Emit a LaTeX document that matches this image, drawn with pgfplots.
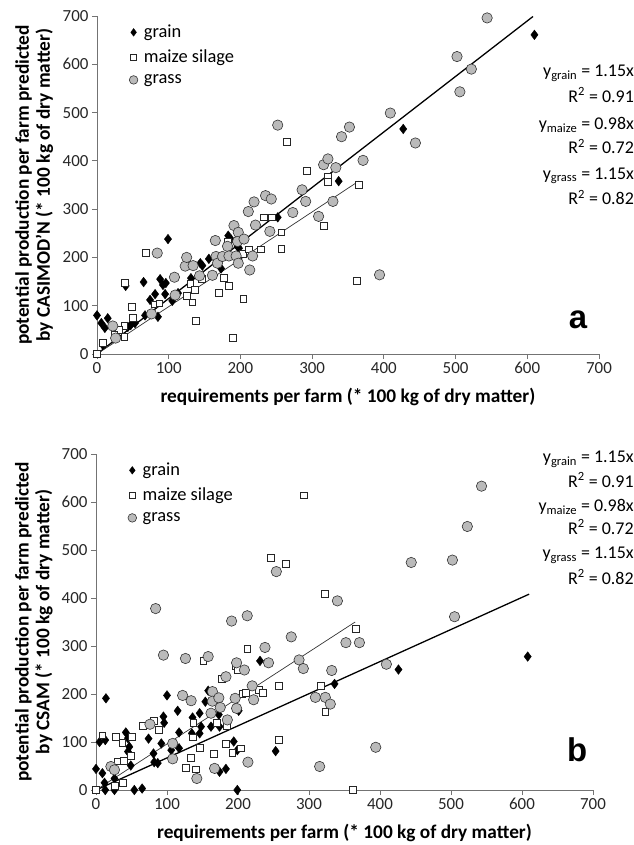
\documentclass[border=0pt]{standalone}
\usepackage{fontspec}
\setmainfont{Carlito}
\newfontfamily\panelfont{Liberation Sans}
\usepackage{pgfplots}
\pgfplotsset{compat=1.18}
\pgfplotsset{
  myax/.style={
    scale only axis,
    xmin=0, xmax=700, ymin=0, ymax=700,
    xtick={0,100,...,700}, ytick={0,100,...,700},
    axis x line*=bottom, axis y line*=left,
    axis line style={draw=black!55, line width=0.9pt},
    tick style={draw=black!55, line width=0.9pt},
    tick align=outside, major tick length=5bp,
    ticklabel style={font=\fontsize{17}{20}\selectfont, text=black!85},
    /pgf/number format/assume math mode=true,
    clip=false,
    label style={font=\bfseries\fontsize{19.4}{21}\selectfont},
    xlabel={requirements per farm (* 100 kg of dry matter)},
    xlabel style={at={(axis description cs:0.5,-0.127)}, anchor=center},
    ylabel style={at={(axis description cs:-0.125,0.5)}, anchor=center, align=center},
    legend style={at={(axis description cs:0.058,0.985)}, anchor=north west, draw=none, fill=none,
      font=\fontsize{18.5}{21}\selectfont, row sep=6.5bp},
    legend cell align=left,
  },
  grain/.style={only marks, mark=diamond*, mark size=4.8bp, draw=black, fill=black,
     legend image post style={mark size=3.8bp}},
  maize/.style={only marks, mark=square*, mark size=3.4bp, mark options={draw=black!85, fill=white, line width=0.6pt},
     legend image post style={mark size=2.9bp}},
  grass/.style={only marks, mark=*, mark size=5.2bp, mark options={draw=black!80, fill=black!27, line width=0.6pt},
     legend image post style={mark size=4.3bp}},
}
\tikzset{ann/.style={anchor=east, font=\fontsize{18}{20}\selectfont, inner sep=0pt, xshift=15bp}}
\begin{document}
\begin{tikzpicture}
%%%%%%%%%%%%%%%% panel a
\begin{axis}[myax, width=502bp, height=338bp, at={(0,0)},
  ylabel={potential production per farm predicted\\by CASIMOD'N (* 100 kg of dry matter)}]
\addplot[grain] coordinates {
(0,80)(6,64)(15,74)(11,54)(8,19)(40,141)(65,149)(43,56)(47,60)(53,64)(67,80)(74,112)(81,124)
(85,77)(88,155)(92,143)(96,147)(95,124)(99,238)(105,110)(113,126)(131,157)(144,188)(147,183)
(156,197)(173,177)(183,245)(187,237)(196,223)(198,219)(252,283)(337,358)(427,466)(610,661)};
\addlegendentry{\hspace{4bp}grain}
\addplot[maize] coordinates {
(0,0)(8,23)(39,147)(68,210)(49,97)(50,75)(38,58)(30,50)(38,35)(24,39)(80,103)(87,105)
(125,121)(133,107)(138,68)(130,145)(136,133)(146,156)(170,126)(177,157)(184,141)(189,34)
(182,232)(197,197)(203,208)(204,115)(212,217)(228,217)(233,283)(244,283)(257,252)(257,218)
(265,440)(292,380)(322,368)(322,357)(365,350)(316,265)(362,152)};
\addlegendentry{\hspace{4bp}maize silage}
\addplot[grass] coordinates {
(22,58)(26,33)(76,83)(84,209)(108,159)(109,122)(123,182)(125,200)(134,183)(143,162)
(165,235)(161,163)(166,202)(168,188)(175,202)(182,223)(184,203)(191,266)(197,252)(196,233)
(194,203)(197,188)(205,238)(217,203)(213,174)(211,295)(219,315)(221,267)(235,328)(243,321)
(241,254)(252,474)(273,293)(286,340)(291,316)(309,285)(329,316)(316,392)(322,404)(333,386)
(341,450)(352,470)(371,401)(409,499)(444,437)(502,616)(506,543)(522,590)(544,696)(394,164)};
\addlegendentry{\hspace{4bp}grass}
\addplot[black, line width=1.3pt, forget plot] coordinates {(0,0)(608,699)};
\addplot[black!80, line width=0.7pt, forget plot] coordinates {(0,0)(365,358)};
\node[ann] at (axis description cs:1.04,0.831) {y\textsubscript{grain} = 1.15x};
\node[ann] at (axis description cs:1.04,0.766) {R\textsuperscript{2} = 0.91};
\node[ann] at (axis description cs:1.04,0.678) {y\textsubscript{maize} = 0.98x};
\node[ann] at (axis description cs:1.04,0.615) {R\textsuperscript{2} = 0.72};
\node[ann] at (axis description cs:1.04,0.527) {y\textsubscript{grass} = 1.15x};
\node[ann] at (axis description cs:1.04,0.464) {R\textsuperscript{2} = 0.82};
\node[font=\panelfont\bfseries\fontsize{33}{36}\selectfont] at (axis description cs:0.958,0.1) {a};
\end{axis}
%%%%%%%%%%%%%%%% panel b
\begin{axis}[myax, width=497bp, height=336bp, at={(-1bp,-436bp)},
  ylabel={potential production per farm predicted\\by CSAM (* 100 kg of dry matter)}]
\addplot[grain] coordinates {
(0,44)(5,100)(13,104)(14,191)(9,35)(12,15)(13,0)(26,0)(26,24)(42,120)(45,108)(47,90)(45,80)
(49,51)(54,0)(65,3)(74,107)(81,76)(82,58)(87,56)(95,153)(96,140)(92,97)(100,197)(106,83)
(115,165)(117,120)(117,87)(136,151)(135,118)(146,160)(146,118)(148,132)(154,184)(158,207)
(162,132)(174,132)(173,157)(174,38)(183,44)(194,101)(199,83)(201,165)(199,0)(231,269)
(253,81)(336,221)(426,251)(608,278)};
\addlegendentry{\hspace{4bp}grain}
\addplot[maize] coordinates {
(0,0)(9,114)(26,8)(28,111)(38,15)(31,60)(37,99)(50,111)(49,72)(39,61)(66,133)(81,144)
(88,125)(126,47)(134,67)(136,110)(137,140)(140,43)(146,88)(151,269)(166,76)(170,140)
(177,231)(184,134)(183,97)(192,78)(197,258)(200,251)(204,87)(213,294)(206,200)(211,203)
(229,208)(235,203)(246,484)(258,217)(258,104)(267,471)(293,614)(322,408)(366,336)(317,217)
(323,163)(362,0)};
\addlegendentry{\hspace{4bp}maize silage}
\addplot[grass] coordinates {
(21,49)(26,42)(76,137)(84,378)(95,281)(108,97)(108,65)(126,274)(122,197)(134,186)(142,24)
(158,278)(162,160)(164,205)(164,185)(167,45)(173,192)(175,172)(183,236)(185,146)(191,352)
(196,191)(198,170)(198,265)(209,250)(213,363)(214,58)(220,217)(222,188)(238,297)(243,265)
(254,455)(275,319)(286,271)(292,253)(309,193)(315,49)(340,394)(352,307)(371,307)(332,249)
(323,193)(330,179)(409,262)(394,89)(444,474)(502,479)(505,361)(523,549)(543,633)};
\addlegendentry{\hspace{4bp}grass}
\addplot[black, line width=1.3pt, forget plot] coordinates {(0,0)(610,408)};
\addplot[black!80, line width=0.7pt, forget plot] coordinates {(0,0)(365,350)};
\node[ann] at (axis description cs:1.052,0.985) {y\textsubscript{grain} = 1.15x};
\node[ann] at (axis description cs:1.052,0.923) {R\textsuperscript{2} = 0.91};
\node[ann] at (axis description cs:1.052,0.842) {y\textsubscript{maize} = 0.98x};
\node[ann] at (axis description cs:1.052,0.783) {R\textsuperscript{2} = 0.72};
\node[ann] at (axis description cs:1.052,0.699) {y\textsubscript{grass} = 1.15x};
\node[ann] at (axis description cs:1.052,0.634) {R\textsuperscript{2} = 0.82};
\node[font=\panelfont\bfseries\fontsize{33}{36}\selectfont] at (axis description cs:0.968,0.12) {b};
\end{axis}
\path[use as bounding box] (-97bp,354bp) rectangle (522bp,-491bp);
\end{tikzpicture}
\end{document}
